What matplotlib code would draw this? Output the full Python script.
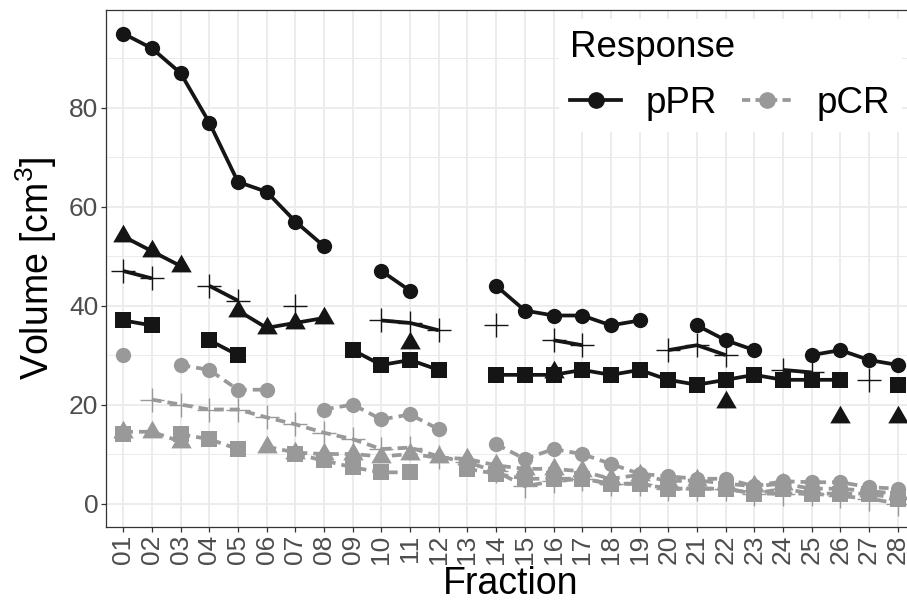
import numpy as np
import matplotlib
matplotlib.use('Agg')
import matplotlib.pyplot as plt
from matplotlib.lines import Line2D

nan = np.nan

# fractions on the x axis
fractions = ['01', '02', '03', '04', '05', '06', '07', '08', '09', '10',
             '11', '12', '13', '14', '15', '16', '17', '18', '19', '20',
             '21', '22', '23', '24', '25', '26', '27', '28']

# pPR patients (black, solid)
ppr_circle = [95, 92, 87, 77, 65, 63, 57, 52, nan, 47, 43, nan, nan, 44,
              39, 38, 38, 36, 37, nan, 36, 33, 31, nan, 30, 31, 29, 28]
ppr_triangle = [54, 51, 48, nan, 39, 35.5, 36.5, 37.5, nan, nan, 32.5, nan, nan, nan,
                nan, 26.5, nan, nan, nan, nan, nan, 20.5, nan, nan, nan, 17.5, nan, 17.5]
ppr_plus = [47, 45.5, nan, 44, 41, nan, 40, nan, nan, 37, 36.5, 35, nan, 36,
            nan, 33, 32, nan, nan, 31, 32, 30, nan, 27, 26.5, nan, 25, nan]
ppr_square = [37, 36, nan, 33, 30, nan, nan, nan, 31, 28, 29, 27, nan, 26,
              26, 26, 27, 26, 27, 25, 24, 25, 26, 25, 25, 25, nan, 24]

# pCR patients (grey, dashed)
pcr_circle = [30, nan, 28, 27, 23, 23, nan, 19, 20, 17, 18, 15, nan, 12,
              9, 11, 10, 8, 6, 5.5, 5, 5, 3.5, 4.5, 4.3, 4.3, 3.3, 3]
pcr_triangle = [14.5, 14.5, 12.5, nan, nan, 11.5, 10.3, 10, 10, 9.5, 10, 9.3, 9, 7.7,
                7, 7, 6.5, 5, 5.8, 4.5, 4.7, 4, 3.5, 4, 3, 3, 2.5, 2]
pcr_plus = [nan, 21, 20, 19, 19, 17.4, 16, 14.3, 13, 11, 11.3, 9.5, 8.3, 6.5,
            3.5, 4.5, 5, 4, 4, 3, 3, 3, 2, 2, 2, 1.5, 1, 0]
pcr_square = [14, nan, 14, 13, 11, nan, 10, 8.7, 7.3, 6.3, 6.3, nan, 7, 6,
              5, 5, 5, 4, 4, 3, 3, 3, 2, 3, 2, 2, 2, 1]

plt.rcParams['font.family'] = ['Liberation Sans', 'DejaVu Sans']
plt.rcParams['mathtext.fontset'] = 'custom'
plt.rcParams['mathtext.rm'] = 'Liberation Sans'
plt.rcParams['mathtext.it'] = 'Liberation Sans:italic'

black = '#151515'
grey = '#999999'
tri = [(0, 0.577), (-0.5, -0.289), (0.5, -0.289)]

fig = plt.figure(figsize=(9.07, 6.01), dpi=100)
ax = fig.add_axes([106/907, 1 - 527/601, (915 - 106)/907, (527 - 10)/601])

x = np.arange(len(fractions))
series = [
    (ppr_circle, black, '-', 'o', 11),
    (ppr_triangle, black, '-', tri, 17),
    (ppr_plus, black, '-', '+', 17),
    (ppr_square, black, '-', 's', 11.5),
    (pcr_circle, grey, '--', 'o', 11),
    (pcr_triangle, grey, '--', tri, 17),
    (pcr_plus, grey, '--', '+', 17),
    (pcr_square, grey, '--', 's', 11.5),
]

# lines first, then the points on top (like ggplot layers)
for vals, col, ls, mk, ms in series:
    ln, = ax.plot(x, np.array(vals, dtype=float), color=col, lw=2.7, ls=ls, zorder=2,
                  solid_capstyle='butt')
    if ls == '--':
        ln.set_dashes((2.6, 1.6))
for vals, col, ls, mk, ms in series:
    ax.plot(x, np.array(vals, dtype=float), ls='none', marker=mk, ms=ms,
            color=col, mew=1.0 if mk == '+' else 0, zorder=3)

ax.set_xlim(-0.6, len(fractions) - 0.4)
ax.set_ylim(-4.75, 99.75)
ax.set_xticks(x)
ax.set_xticklabels(fractions, rotation=90)
ax.set_yticks([0, 20, 40, 60, 80])
ax.set_yticks([10, 30, 50, 70, 90], minor=True)

ax.grid(True, which='major', color='#EBEBEB', lw=1.3, zorder=0)
ax.grid(True, which='minor', axis='y', color='#EBEBEB', lw=0.7, zorder=0)
ax.set_axisbelow(True)

for s in ax.spines.values():
    s.set_color('#333333')
    s.set_linewidth(0.9)
ax.tick_params(which='major', direction='out', length=3.5, width=0.9, color='#333333',
               labelcolor='#4D4D4D', labelsize=19, pad=2)
ax.tick_params(which='minor', length=0)

ax.set_xlabel('Fraction', fontsize=27, labelpad=1)
ax.set_ylabel('Volume [cm$^3$]', fontsize=27, labelpad=7)

handles = [Line2D([], [], color=black, lw=2.7, marker='o', ms=11),
           Line2D([], [], color=grey, lw=2.7, ls='--', dashes=(2.2, 1.4), marker='o', ms=11)]
leg = fig.legend(handles, ['pPR', 'pCR'], title='Response', ncol=2,
                 loc='upper right', bbox_to_anchor=(920/907, 1 - 1/601),
                 fontsize=26.5, title_fontsize=26.5, alignment='left',
                 frameon=True, fancybox=False, edgecolor='none', facecolor='white',
                 framealpha=1, handlelength=1.36, handletextpad=0.68,
                 columnspacing=0.68, borderpad=0.3, labelspacing=0.55)

fig.savefig('out.png', dpi=100)
